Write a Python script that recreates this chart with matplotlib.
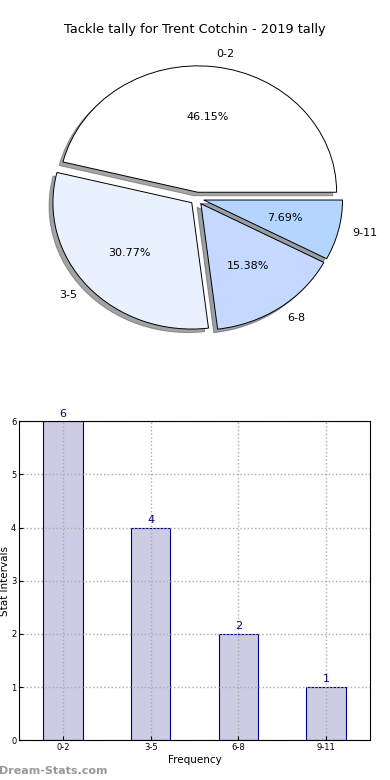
import matplotlib
matplotlib.use("Agg")
import matplotlib.pyplot as plt

categories = ["0-2", "3-5", "6-8", "9-11"]
values = [6, 4, 2, 1]
pie_colors = ["#ffffff", "#eaf1fe", "#c5d8ff", "#b3d5ff"]

fig = plt.figure(figsize=(3.9, 7.8), dpi=100)

# Pie chart
ax1 = fig.add_axes([0.06, 0.543, 0.89, 0.405])
wedges, texts, autotexts = ax1.pie(
    values, labels=categories, colors=pie_colors, explode=[0.05] * 4,
    autopct="%.2f%%", shadow=True, startangle=0, labeldistance=1.1,
    pctdistance=0.6,
    wedgeprops=dict(edgecolor="black", linewidth=0.7),
    textprops=dict(fontsize=8))
ax1.set_aspect("auto")
ax1.set_xlim(-1.25, 1.25)
ax1.set_ylim(-1.25, 1.25)
fig.text(0.5, 0.962, "Tackle tally for Trent Cotchin - 2019 tally",
         ha="center", va="center", fontsize=9.3)

# Bar chart
ax2 = fig.add_axes([0.049, 0.051, 0.9, 0.409])
x = range(len(categories))
ax2.bar(x, values, width=0.45, color="#ccccE4", edgecolor="#000080",
        linewidth=0.8, zorder=1)
for xi, v in zip(x, values):
    ax2.text(xi, v + 0.05, str(v), ha="center", va="bottom",
             color="#000080", fontsize=8)
ax2.set_xlim(-0.5, 3.5)
ax2.set_ylim(0, 6)
ax2.set_xticks(list(x))
ax2.set_xticklabels(categories)
ax2.set_yticks(range(0, 7))
ax2.tick_params(labelsize=6, direction="in", length=3, pad=2)
ax2.set_axisbelow(False)
ax2.grid(True, linestyle=":", color="#aaaaaa", linewidth=1)
for gl in ax2.get_xgridlines() + ax2.get_ygridlines():
    gl.set_zorder(1.5)
for sp in ax2.spines.values():
    sp.set_zorder(3)
ax2.set_xlabel("Frequency", fontsize=7.5, labelpad=2)
ax2.set_ylabel("Stat Intervals", fontsize=7.5, labelpad=1)

fig.text(-0.003, 0.012, "Dream-Stats.com", fontsize=8, color="#999999",
         fontweight="bold", ha="left", va="center")

fig.savefig("out.png", dpi=100)
